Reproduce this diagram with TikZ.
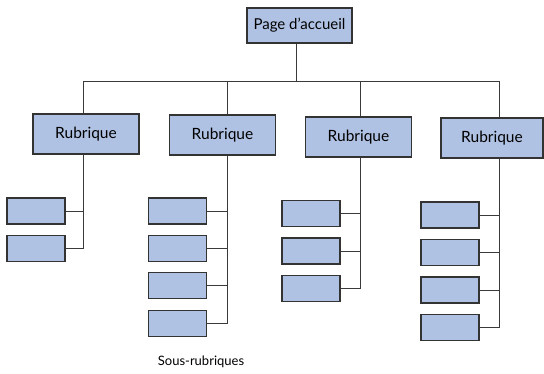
\documentclass[tikz,border=0pt]{standalone}
\usepackage{fontspec}
\setmainfont{Lato}
\definecolor{boxblue}{HTML}{B0C2E3}
\definecolor{edge}{HTML}{333333}
\definecolor{wire}{HTML}{3A3A3A}
\tikzset{
  bx/.style={draw=edge, fill=boxblue, line width=1.1pt, inner sep=0pt, anchor=center},
  topbox/.style={bx, minimum width=105pt, minimum height=35pt, font=\fontsize{15}{17}\selectfont},
  rubbox/.style={bx, minimum width=106pt, minimum height=40pt, font=\fontsize{15.5}{17}\selectfont},
  subbox/.style={bx, minimum width=58pt, minimum height=26pt},
  wireline/.style={draw=wire, line width=0.9pt},
  lbl/.style={font=\fontsize{13}{15}\selectfont, inner sep=0pt}
}
\begin{document}
\begin{tikzpicture}[x=1pt,y=-1pt]
\useasboundingbox (0,0) rectangle (544,374);
\node[topbox] (top) at (299.5,25.5) {Page d'accueil};
\node[rubbox] (r1) at (86,134) {Rubrique};
\node[rubbox] (r2) at (222.5,135) {Rubrique};
\node[rubbox] (r3) at (358.5,137) {Rubrique};
\node[rubbox, minimum width=102pt] (r4) at (492,138) {Rubrique};
% sub boxes
\node[subbox] (s11) at (36,211) {};
\node[subbox] (s12) at (36,248.5) {};
\node[subbox] (s21) at (177.5,211) {};
\node[subbox] (s22) at (177.5,248.5) {};
\node[subbox] (s23) at (177.5,285.5) {};
\node[subbox] (s24) at (177.5,323.5) {};
\node[subbox] (s31) at (311,213.5) {};
\node[subbox] (s32) at (311,251) {};
\node[subbox] (s33) at (311,288.5) {};
\node[subbox] (s41) at (450,215) {};
\node[subbox] (s42) at (450,252.5) {};
\node[subbox] (s43) at (450,290) {};
\node[subbox] (s44) at (450,327.5) {};
\node[lbl] (lab) at (201,362) {Sous-rubriques};
% bus
\coordinate (b0) at (296,81);
\coordinate (v1) at (83,81);
\coordinate (v2) at (227,81);
\coordinate (v3) at (360,81);
\coordinate (v4) at (499,81);
\draw[wireline] (b0 |- top.south) -- (b0);
\draw[wireline] (v1) -- (v4);
\draw[wireline] (v1) -- (v1 |- r1.north);
\draw[wireline] (v2) -- (v2 |- r2.north);
\draw[wireline] (v3) -- (v3 |- r3.north);
\draw[wireline] (v4) -- (v4 |- r4.north);
% columns
\draw[wireline] (v1 |- r1.south) -- (v1 |- s12.east) -- (s12.east);
\draw[wireline] (s11.east) -- (s11.east -| v1);
\draw[wireline] (v2 |- r2.south) -- (v2 |- s24.east) -- (s24.east);
\draw[wireline] (s21.east) -- (s21.east -| v2);
\draw[wireline] (s22.east) -- (s22.east -| v2);
\draw[wireline] (s23.east) -- (s23.east -| v2);
\draw[wireline] (v3 |- r3.south) -- (v3 |- s33.east) -- (s33.east);
\draw[wireline] (s31.east) -- (s31.east -| v3);
\draw[wireline] (s32.east) -- (s32.east -| v3);
\draw[wireline] (v4 |- r4.south) -- (v4 |- s44.east) -- (s44.east);
\draw[wireline] (s41.east) -- (s41.east -| v4);
\draw[wireline] (s42.east) -- (s42.east -| v4);
\draw[wireline] (s43.east) -- (s43.east -| v4);
\end{tikzpicture}
\end{document}
